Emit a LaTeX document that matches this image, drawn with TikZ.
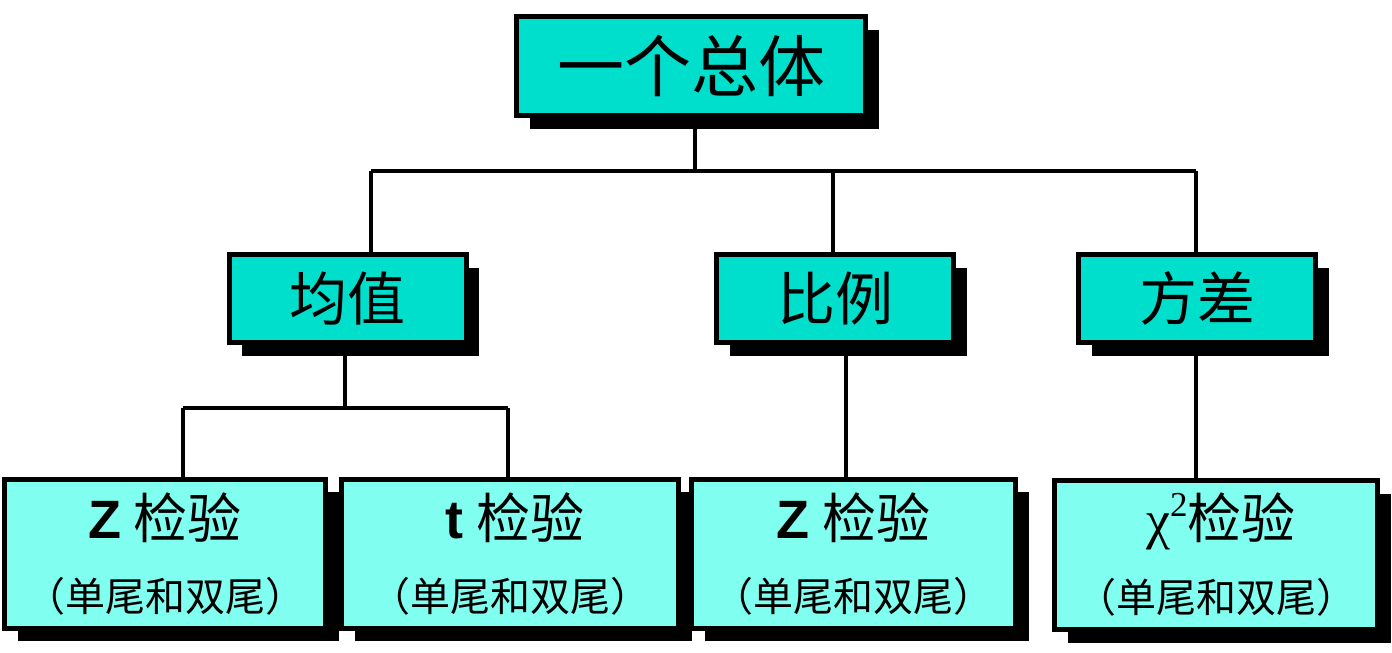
\documentclass[tikz,border=0pt]{standalone}
\usepackage{fontspec}
\setmainfont{Liberation Serif}
\newfontfamily\cjk{Noto Sans CJK SC}
\newfontfamily\arialf{Liberation Sans}
\newfontfamily\timesf{Liberation Serif}
\usetikzlibrary{shadows}
\definecolor{tealfill}{RGB}{0,222,204}
\definecolor{aquafill}{RGB}{128,255,240}
\begin{document}
\begin{tikzpicture}[x=1pt,y=-1pt,
  card/.style={draw=black, line width=5pt, rectangle, inner sep=0pt,
    general shadow={fill=black, shadow xshift=13pt, shadow yshift=-13pt}},
  topbox/.style={card, fill=tealfill, minimum width=349pt, minimum height=99pt,
    text height=59pt, text depth=8pt, font=\cjk\fontsize{67}{67}\selectfont},
  midbox/.style={card, fill=tealfill, minimum width=237pt, minimum height=88pt,
    text height=51pt, text depth=7pt, font=\cjk\fontsize{58}{58}\selectfont},
  lowbox/.style={card, fill=aquafill, minimum height=149pt},
  headtxt/.style={inner sep=0pt, text height=47.5pt, text depth=6.5pt,
    font=\cjk\fontsize{54}{54}\selectfont},
  subtxt/.style={inner sep=0pt, text height=35pt, text depth=5pt,
    font=\cjk\fontsize{40}{40}\selectfont},
  conn/.style={line width=4.5pt}]
\useasboundingbox (0,0) rectangle (1392,653);

% bus coordinates
\coordinate (b1L) at (371,171);
\coordinate (b1C) at (695,171);
\coordinate (b1M) at (833,171);
\coordinate (b1R) at (1196,171);
\coordinate (b2L) at (183,408);
\coordinate (b2C) at (345,408);
\coordinate (b2R) at (508,408);
\coordinate (b3M) at (846,408);

% boxes
\node[topbox] (top) at (691,66) {一个总体};
\node[midbox] (mean) at (347.5,298.5) {均值};
\node[midbox] (prop) at (835,298.5) {比例};
\node[midbox] (var) at (1197,298.5) {方差};

\node[lowbox, minimum width=321pt] (zmean) at (165,553.5) {};
\node[lowbox, minimum width=337pt] (tmean) at (510,553.5) {};
\node[lowbox, minimum width=324pt] (zprop) at (853.5,553.5) {};
\node[lowbox, minimum width=323pt] (chivar) at (1216,555) {};

% connectors
\draw[conn] (top.south -| b1C) -- (b1C);
\draw[conn] (b1L) -- (b1R);
\draw[conn] (b1L) -- (b1L |- mean.north);
\draw[conn] (b1M) -- (b1M |- prop.north);
\draw[conn] (b1R) -- (b1R |- var.north);
\draw[conn] (mean.south -| b2C) -- (b2C);
\draw[conn] (b2L) -- (b2R);
\draw[conn] (b2L) -- (b2L |- zmean.north);
\draw[conn] (b2R) -- (b2R |- tmean.north);
\draw[conn] (prop.south -| b3M) -- (b3M |- zprop.north);
\draw[conn] (var.south -| b1R) -- (b1R |- chivar.north);

% box texts
\node[headtxt] (zmean1) at ([yshift=36pt]zmean.center) {{\arialf\bfseries Z} 检验};
\node[subtxt] (zmean2) at ([yshift=-43pt]zmean.center) {（单尾和双尾）};
\node[headtxt] (tmean1) at ([xshift=5pt,yshift=36pt]tmean.center) {{\arialf\bfseries t} 检验};
\node[subtxt] (tmean2) at ([yshift=-43pt]tmean.center) {（单尾和双尾）};
\node[headtxt] (zprop1) at ([yshift=36pt]zprop.center) {{\arialf\bfseries Z} 检验};
\node[subtxt] (zprop2) at ([yshift=-43pt]zprop.center) {（单尾和双尾）};
\node[headtxt] (chivar1) at ([xshift=5pt,yshift=37pt]chivar.center) {{\timesf χ}\raisebox{0.4em}{\timesf\fontsize{35}{35}\selectfont 2}检验};
\node[subtxt] (chivar2) at ([yshift=-42pt]chivar.center) {（单尾和双尾）};
\end{tikzpicture}
\end{document}
